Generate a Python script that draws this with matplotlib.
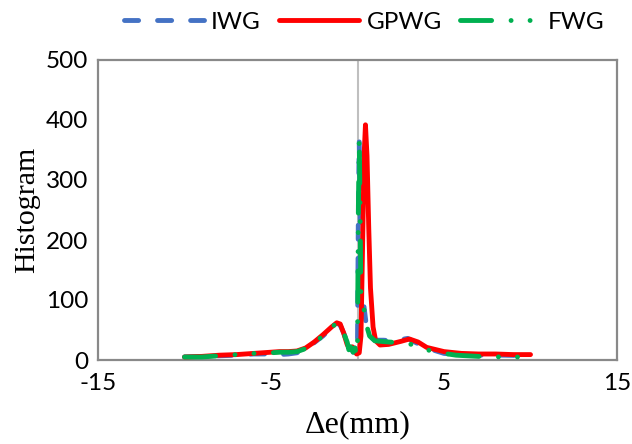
import matplotlib
matplotlib.use("Agg")
import matplotlib.pyplot as plt

# ---- data ----
gpwg_x = [-10, -9, -8, -7, -6, -5, -4.5, -4, -3.5, -3, -2.5, -2, -1.5, -1.2, -1.0, -0.8,
          -0.6, -0.45, -0.3, -0.15, -0.05, 0.1, 0.2, 0.3, 0.38, 0.46, 0.55, 0.65, 0.75,
          0.9, 1.05, 1.3, 1.8, 2.5, 3.0, 3.5, 4.0, 5.0, 6.0, 7.0, 8.0, 9.0, 10.0]
gpwg_y = [5, 6, 8, 9, 11, 13, 14, 14, 15, 20, 30, 42, 55, 62, 60, 45,
          26, 18, 22, 15, 10, 12, 40, 200, 340, 392, 340, 220, 120,
          55, 32, 25, 26, 31, 35, 30, 21, 14, 11, 10, 10, 9, 9]

iwg_x = [-10, -9, -8, -7, -6, -5, -4.5, -4, -3.5, -3, -2.5, -2, -1.5, -1.2, -1.0, -0.8,
         -0.6, -0.5, -0.4, -0.25, -0.15, -0.05, 0.0, 0.05, 0.1, 0.15, 0.2, 0.28, 0.35,
         0.5, 0.7, 1.0, 1.5, 2.0, 2.5, 2.9, 3.3, 4.0, 5.0, 5.7, 7.0, 8.5, 10.0]
iwg_y = [5, 6, 7, 8, 10, 10, 9, 10, 12, 19, 29, 40, 54, 62, 58, 45,
         30, 17, 22, 13, 20, 8, 30, 250, 365, 250, 110, 100, 95,
         60, 40, 33, 33, 32, 34, 36, 30, 20, 11, 9, 8, 8, 7]

fwg_x = [-10, -9, -8, -7, -6, -5, -4.5, -4, -3.5, -3, -2.5, -2, -1.5, -1.2, -1.0, -0.8,
         -0.6, -0.5, -0.4, -0.25, -0.15, -0.05, 0.0, 0.05, 0.1, 0.15, 0.2, 0.28, 0.35,
         0.5, 0.7, 1.0, 1.8, 2.9, 4.0, 5.0, 5.7, 7.0, 8.5, 10.0]
fwg_y = [5, 5, 7, 9, 11, 12, 13, 13, 14, 19, 29, 40, 54, 62, 58, 45,
         30, 17, 22, 13, 20, 8, 30, 250, 370, 250, 100, 95, 90,
         60, 40, 32, 30, 28, 17, 11, 8, 6, 5, 5]

x_ticks = [-15, -5, 5, 15]
y_ticks = [0, 100, 200, 300, 400, 500]

fig = plt.figure(figsize=(6.32, 4.44), dpi=100)
ax = fig.add_axes([98/632, 84/444, 519/632, 300/444])

lw = 3.5
ax.axvline(0, color="#BFBFBF", lw=1.5, zorder=1)
ax.plot(iwg_x, iwg_y, color="#4472C4", lw=lw, linestyle=(0, (2.9, 3.9)),
        dash_capstyle="round", label="IWG", zorder=2)
ax.plot(gpwg_x, gpwg_y, color="#FF0000", lw=lw, solid_capstyle="round",
        solid_joinstyle="round", label="GPWG", zorder=3)
ax.plot(fwg_x, fwg_y, color="#00B050", lw=lw,
        linestyle=(0, (6.4, 4.0, 0.01, 3.9, 0.01, 4.0)),
        dash_capstyle="round", label="FWG", zorder=4)

ax.set_xlim(-15, 15)
ax.set_ylim(0, 500)
ax.set_xticks(x_ticks)
ax.set_yticks(y_ticks)
ax.set_xticklabels([str(v) for v in x_ticks], fontsize=17.5, family="Lato")
ax.set_yticklabels([str(v) for v in y_ticks], fontsize=17.5, family="Lato")
ax.tick_params(axis="y", length=0, pad=7)
ax.tick_params(axis="x", length=0, pad=9)
for s in ax.spines.values():
    s.set_color("#898989")
    s.set_linewidth(1.6)

ax.set_ylabel("Histogram", fontsize=21.5, family="Liberation Serif", labelpad=4)
ax.set_xlabel("\u0394e(mm)", fontsize=23, family="Liberation Serif", labelpad=12)

leg = fig.legend(loc="center", bbox_to_anchor=(0.576, 0.95), ncol=3, frameon=False,
                 prop={"family": "Lato", "size": 17.5}, handlelength=3.3,
                 handletextpad=0.3, columnspacing=0.75)

fig.savefig("out.png", dpi=100)
